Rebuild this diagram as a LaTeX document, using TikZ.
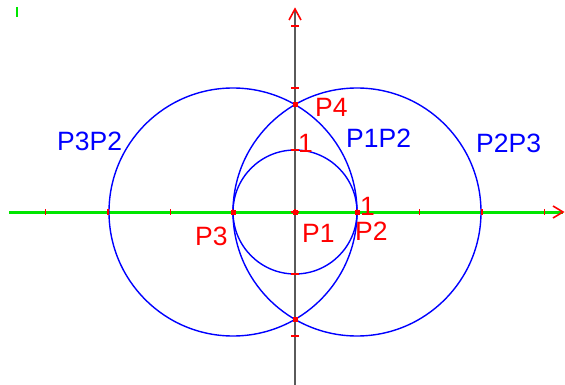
\documentclass[tikz,border=0pt]{standalone}
\usepackage{fontspec}
\setmainfont{Liberation Sans}
\usetikzlibrary{arrows.meta}
\definecolor{cblue}{RGB}{0,0,255}
\definecolor{cred}{RGB}{255,0,0}
\definecolor{cgreen}{RGB}{0,230,0}
\definecolor{cgray}{RGB}{90,90,90}
\tikzset{
  circ/.style={draw=cblue, line width=1.4pt},
  redlab/.style={text=cred, font=\fontsize{26.5}{26.5}\selectfont, inner sep=0pt, anchor=base west},
  bluelab/.style={text=cblue, font=\fontsize{26.5}{26.5}\selectfont, inner sep=0pt, anchor=base west},
  tick/.style={draw=cred, line width=1.3pt},
  pt/.style={fill=cred, minimum size=5pt, inner sep=0pt, rectangle},
  arrowhd/.style={draw=cred, line width=1.6pt}
}
\begin{document}
\begin{tikzpicture}[x=1pt,y=-1pt]
\useasboundingbox (0,0) rectangle (565,385);
% axis ends
\coordinate (xl) at (9,212);
\coordinate (xr) at (563,212);
\coordinate (yt) at (295,9);
\coordinate (yb) at (295,385);
% axes
\draw[cgreen, line width=3pt] (xl) -- (xr);
\draw[cgray, line width=1.6pt] (yb) -- (yt);
% arrow heads
\coordinate (xa1) at (553,206);
\coordinate (xa2) at (553,218);
\draw[arrowhd] (xa1) -- (xr) -- (xa2);
\coordinate (ya1) at (289,20);
\coordinate (ya2) at (301,20);
\draw[arrowhd] (ya1) -- (yt) -- (ya2);
% green mark
\coordinate (g1) at (17,7);
\coordinate (g2) at (17,17);
\draw[cgreen, line width=2pt] (g1) -- (g2);
% points
\coordinate (P1) at (295,212);
\coordinate (P2) at (357,212);
\coordinate (P3) at (233,212);
\coordinate (P4) at (295,105);
\coordinate (P5) at (295,319);
% circles
\draw[circ] (P1) circle (62);
\draw[circ] (P2) circle (124);
\draw[circ] (P3) circle (124);
% ticks on x axis
\foreach \k in {-4,...,4} {
  \draw[tick] ({295+62.3*\k},209) -- ({295+62.3*\k},215);
}
% ticks on y axis
\foreach \k in {-2,...,3} {
  \draw[tick] (291,{212-62*\k}) -- (299,{212-62*\k});
}
% point markers
\node[pt] (m1) at (P1) {};
\node[pt] (m2) at (P2) {};
\node[pt] (m3) at (P3) {};
\node[pt] (m4) at (P4) {};
\node[pt] (m5) at (P5) {};
% labels
\node[redlab] (lP4) at (315,117) {P4};
\node[redlab] (l1y) at (298,153) {1};
\node[redlab] (l1x) at (360,215) {1};
\node[redlab] (lP3) at (195,245) {P3};
\node[redlab] (lP1) at (302,242) {P1};
\node[redlab] (lP2) at (355,240) {P2};
\node[bluelab] (lP1P2) at (346,148) {P1P2};
\node[bluelab] (lP2P3) at (476,153) {P2P3};
\node[bluelab] (lP3P2) at (57,151) {P3P2};
\end{tikzpicture}
\end{document}
